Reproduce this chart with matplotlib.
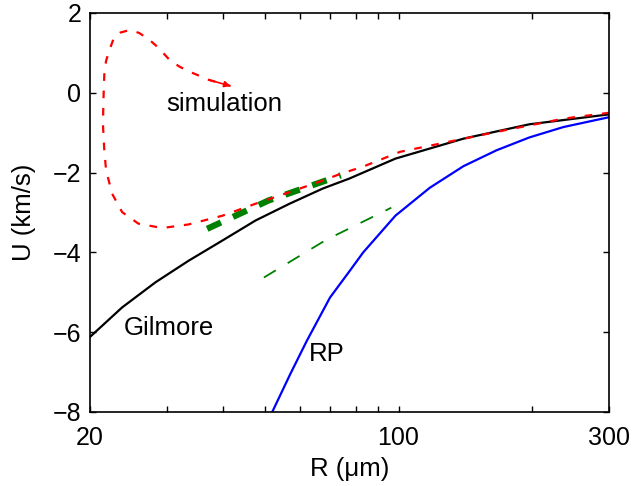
#!/usr/bin/env python3

import matplotlib
matplotlib.use('Agg')
import matplotlib.pyplot as plt
from matplotlib.ticker import FixedLocator, NullFormatter


# bubble wall velocity U (km/s) versus radius R (um)
gilmore_R = [20, 23.7, 28.2, 33.5, 40.0, 47.5, 56.7, 67.4, 77.4, 98.4, 140.2, 197.6, 300]
gilmore_U = [-6.13, -5.38, -4.75, -4.21, -3.70, -3.20, -2.78, -2.40, -2.15, -1.65, -1.15, -0.79, -0.54]

rp_R = [51.8, 56.9, 62, 70, 77.6, 83.2, 98.4, 117.7, 140.2, 166.7, 197.6, 235.8, 300]
rp_U = [-8.0, -7.05, -6.22, -5.13, -4.46, -4.00, -3.08, -2.38, -1.84, -1.44, -1.12, -0.86, -0.61]

# simulated trajectory: collapse from the right, rebound at the top left
sim_R = [300, 235.8, 166.7, 131, 100.8, 83.2, 74.0, 67.4, 56.7, 47.5, 40.0,
         33.5, 29.2, 25.8, 23.7, 22.5, 21.8, 21.6, 21.45, 21.5, 21.6, 21.8,
         22.2, 22.7, 23.5, 24.6, 25.9, 27.3, 28.7, 30.3, 31.9, 33.5, 37.3, 41.7]
sim_U = [-0.50, -0.65, -0.98, -1.22, -1.48, -1.85, -2.03, -2.20, -2.49, -2.78,
         -3.08, -3.30, -3.39, -3.28, -2.99, -2.53, -1.94, -1.44, -0.80, -0.20,
         0.45, 0.80, 1.08, 1.37, 1.51, 1.57, 1.50, 1.33, 1.12, 0.83, 0.66,
         0.54, 0.32, 0.17]

exp_thick_R = [36.9, 50.8, 74.0]
exp_thick_U = [-3.41, -2.70, -2.07]
exp_thin_R  = [49.6, 68.5, 96.3]
exp_thin_U  = [-4.63, -3.69, -2.88]

xticks = [20, 100, 300]
xminor = [30, 40, 50, 60, 70, 80, 90, 200]
yticks = [-8, -6, -4, -2, 0, 2]


plt.rcParams['font.family']        = ['Liberation Sans', 'DejaVu Sans']
plt.rcParams['lines.scale_dashes'] = False

fig = plt.figure(figsize=(6.34, 4.86), dpi=100)
ax  = fig.add_axes([0.1412, 0.1523, 0.8201, 0.8210])

green = (0, 0.5, 0)
ax.plot(gilmore_R, gilmore_U, color='k', lw=1.6)
ax.plot(rp_R, rp_U, color='b', lw=1.6)
ax.plot(exp_thin_R, exp_thin_U, color=green, lw=1.3, dashes=(10, 10))
ax.plot(exp_thick_R, exp_thick_U, color=green, lw=4.5, dashes=(11, 9.5))
ax.plot(sim_R, sim_U, color='r', lw=1.6, dashes=(5.5, 7))
ax.annotate('', xy=(sim_R[-1], sim_U[-1]), xytext=(sim_R[-2], sim_U[-2]),
            arrowprops=dict(arrowstyle='-|>', color='r', lw=1.2,
                            mutation_scale=9, shrinkA=0, shrinkB=0))

ax.text(29.9, -0.29, 'simulation', fontsize=18.5, va='center')
ax.text(23.9, -5.89, 'Gilmore', fontsize=18.5, va='center')
ax.text(62.6, -6.54, 'RP', fontsize=18.5, va='center')

ax.set_xscale('log')
ax.set_xlim(20, 300)
ax.set_ylim(-8, 2)
ax.xaxis.set_major_locator(FixedLocator(xticks))
ax.xaxis.set_minor_locator(FixedLocator(xminor))
ax.xaxis.set_minor_formatter(NullFormatter())
ax.set_xticklabels([str(t) for t in xticks])
ax.set_yticks(yticks)
ax.tick_params(which='both', direction='in', top=True, right=True,
               length=4, width=1, labelsize=18)
ax.tick_params(axis='x', pad=10)
ax.tick_params(axis='y', pad=6)

for s in ax.spines.values():
  s.set_linewidth(1.2)

ax.set_xlabel('R (\u03bcm)', fontsize=18.5, labelpad=5)
ax.set_ylabel('U (km/s)', fontsize=18.5, labelpad=12)

fig.savefig('out.png', dpi=100)
